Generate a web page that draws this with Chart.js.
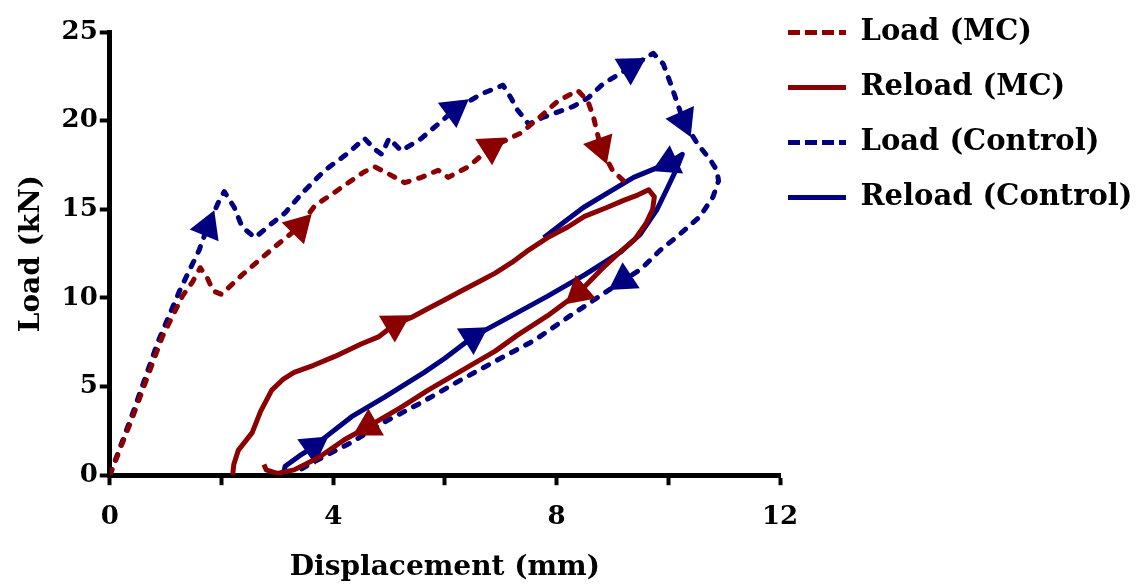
<!DOCTYPE html>
<html>
<head>
<meta charset="utf-8">
<script src="https://cdn.jsdelivr.net/npm/chart.js@4.4.1/dist/chart.umd.min.js"></script>
<style>
    html, body { margin: 0; padding: 0; background: #fff; overflow: hidden; }
    #wrap { width: 1141px; height: 588px; position: relative; }
</style>
</head>
<body>
<div id="wrap"><canvas id="chart"></canvas></div>
<script>
// Tick labels
const xTicks = [0, 4, 8, 12];
const yTicks = [0, 5, 10, 15, 20, 25];

// Series values: [displacement (mm), load (kN)], in drawing order
const loadMC = [
    [0, 0], [0.4, 3.2], [0.94, 7.8], [1.3, 10.1], [1.48, 10.9], [1.62, 11.7],
    [1.75, 11.1], [1.85, 10.4], [2.0, 10.2], [2.37, 11.3], [2.96, 12.9], [3.39, 14.0],
    [3.67, 15.2], [4.0, 15.9], [4.27, 16.5], [4.55, 17.1], [4.74, 17.4], [4.99, 17.0],
    [5.28, 16.5], [5.58, 16.8], [5.88, 17.2], [6.06, 16.8], [6.42, 17.4], [6.83, 18.5],
    [7.36, 19.3], [7.7, 20.2], [8.02, 21.1], [8.38, 21.7], [8.56, 21.1], [8.66, 20.2],
    [8.79, 18.5], [9.0, 17.2], [9.2, 16.6]
];
const reloadMC = [
    [2.2, 0], [2.22, 0.6], [2.3, 1.4], [2.55, 2.4], [2.7, 3.6], [2.9, 4.8],
    [3.1, 5.4], [3.3, 5.8], [3.65, 6.2], [4.03, 6.7], [4.5, 7.4], [4.81, 7.8],
    [5.1, 8.5], [5.4, 8.9], [5.7, 9.4], [6.0, 9.9], [6.3, 10.4], [6.6, 10.9],
    [6.9, 11.4], [7.2, 12.0], [7.5, 12.7], [7.84, 13.4], [8.2, 14.0], [8.5, 14.6],
    [8.9, 15.1], [9.2, 15.5], [9.45, 15.8], [9.65, 16.1], [9.75, 15.7], [9.72, 15.0],
    [9.6, 14.2], [9.4, 13.3], [9.1, 12.5], [8.8, 11.6], [8.4, 10.3], [7.84, 9.0],
    [7.3, 7.9], [6.9, 7.0], [6.3, 5.9], [5.7, 4.8], [5.2, 3.8], [4.63, 2.75],
    [4.2, 2.0], [3.74, 1.0], [3.3, 0.3], [3.0, 0.1], [2.8, 0.3], [2.76, 0.6]
];
const loadControl = [
    [0, 0], [0.4, 3.4], [0.86, 7.5], [1.25, 10.4], [1.6, 12.7], [1.75, 14.0],
    [1.96, 15.5], [2.05, 16.0], [2.23, 15.1], [2.37, 14.0], [2.6, 13.4], [2.9, 14.2],
    [3.14, 14.8], [3.44, 15.9], [3.85, 17.2], [4.28, 18.2], [4.56, 19.0], [4.74, 18.4],
    [4.87, 18.1], [5.0, 19.0], [5.22, 18.3], [5.58, 19.0], [6.17, 20.6], [6.65, 21.5],
    [7.04, 22.0], [7.18, 21.3], [7.3, 20.6], [7.5, 19.8], [7.77, 20.2], [8.3, 20.8],
    [8.57, 21.3], [8.84, 22.1], [9.32, 23.0], [9.73, 23.8], [9.91, 23.2], [10.04, 22.1],
    [10.27, 20.0], [10.52, 18.7], [10.75, 17.8], [10.87, 17.2], [10.9, 16.6], [10.8, 15.7],
    [10.57, 14.6], [10.21, 13.6], [9.86, 12.7], [9.5, 11.6], [9.2, 11.0], [8.2, 8.9],
    [7.6, 7.6], [7.06, 6.7], [6.3, 5.4], [5.58, 4.1], [4.92, 3.0], [4.33, 1.85],
    [3.62, 0.7], [3.3, 0.1]
];
const reloadControl = [
    [3.1, 0], [3.14, 0.5], [3.4, 1.1], [3.65, 1.6], [3.74, 1.85], [4.33, 3.3],
    [4.92, 4.4], [5.63, 5.8], [6.0, 6.6], [6.5, 7.8], [7.2, 9.0], [7.84, 10.1],
    [8.5, 11.3], [9.15, 12.6], [9.5, 13.6], [9.8, 15.0], [10.0, 16.3], [10.15, 17.3],
    [10.25, 18.1], [10.0, 17.6], [9.38, 16.8], [8.9, 15.9], [8.48, 15.1], [8.1, 14.2],
    [7.77, 13.4]
];

// Which points carry a direction arrow
const loadMCArrows = [11, 23, 30];
const reloadMCArrows = [12, 34, 41];
const loadControlArrows = [5, 22, 32, 36, 46];
const reloadControlArrows = [3, 9, 19];

const RED = '#8b0000';
const BLUE = '#000080';

// Arrow points along the path, using the neighbouring points in pixel space
function arrowRotation(ctx, points) {
    const i = ctx.dataIndex;
    const xs = ctx.chart.scales.x;
    const ys = ctx.chart.scales.y;
    const a = points[Math.max(0, i - 1)];
    const b = points[Math.min(points.length - 1, i + 1)];
    const dx = xs.getPixelForValue(b[0]) - xs.getPixelForValue(a[0]);
    const dy = ys.getPixelForValue(b[1]) - ys.getPixelForValue(a[1]);
    return Math.atan2(dx, -dy) * 180 / Math.PI;
}

function makeDataset(label, points, arrows, color, dashed) {
    return {
        label: label,
        data: points.map(p => ({ x: p[0], y: p[1] })),
        showLine: true,
        borderColor: color,
        backgroundColor: color,
        borderWidth: 5,
        borderDash: dashed ? [6, 10] : [],
        borderCapStyle: dashed ? 'round' : 'butt',
        borderJoinStyle: 'round',
        tension: 0,
        pointStyle: 'triangle',
        pointRadius: ctx => arrows.includes(ctx.dataIndex) ? 16 : 0,
        pointHoverRadius: ctx => arrows.includes(ctx.dataIndex) ? 16 : 0,
        pointRotation: ctx => arrowRotation(ctx, points),
        pointBackgroundColor: color,
        pointBorderColor: color,
        pointBorderWidth: 2,
        legendDash: dashed ? [12, 5] : []
    };
}

// Legend sits higher than the plot top and starts a bit further left;
// only the left edge moves so the legend's clip box keeps the full right side
const legendShift = {
    id: 'legendShift',
    afterLayout(chart) {
        const lg = chart.legend;
        if (!lg) return;
        lg.top -= 40;
        lg.left -= 18;
        lg.width += 18;
        lg.height += 40;
        lg.adjustHitBoxes();
    }
};

const serif = 'DejaVu Serif';

const ctx = document.getElementById('chart').getContext('2d');
new Chart(ctx, {
    type: 'scatter',
    data: {
        datasets: [
            makeDataset('Load (MC)', loadMC, loadMCArrows, RED, true),
            makeDataset('Reload (MC)', reloadMC, reloadMCArrows, RED, false),
            makeDataset('Load (Control)', loadControl, loadControlArrows, BLUE, true),
            makeDataset('Reload (Control)', reloadControl, reloadControlArrows, BLUE, false)
        ]
    },
    plugins: [legendShift],
    options: {
        responsive: true,
        maintainAspectRatio: false,
        animation: false,
        layout: {
            padding: { top: 32, right: 0, bottom: 3, left: 15 }
        },
        plugins: {
            tooltip: { enabled: false },
            legend: {
                position: 'right',
                align: 'start',
                maxWidth: 361,
                labels: {
                    usePointStyle: true,
                    pointStyleWidth: 58,
                    padding: 26,
                    color: '#000',
                    font: { family: serif, weight: 'bold', size: 29 },
                    generateLabels: chart => chart.data.datasets.map((ds, i) => ({
                        text: ds.label,
                        fillStyle: ds.borderColor,
                        strokeStyle: ds.borderColor,
                        lineWidth: 5,
                        lineDash: ds.legendDash,
                        lineCap: 'butt',
                        pointStyle: 'line',
                        rotation: 0,
                        fontColor: '#000',
                        hidden: !chart.isDatasetVisible(i),
                        datasetIndex: i
                    }))
                }
            }
        },
        scales: {
            x: {
                type: 'linear',
                min: xTicks[0],
                max: xTicks[xTicks.length - 1],
                border: { display: true, color: '#000', width: 5 },
                grid: { drawOnChartArea: false, drawTicks: true, tickLength: 10, tickWidth: 4, tickColor: '#000' },
                ticks: {
                    stepSize: 2,
                    color: '#000',
                    padding: 16,
                    font: { family: serif, weight: 'bold', size: 26 },
                    callback: v => xTicks.includes(v) ? String(v) : ''
                },
                title: {
                    display: true,
                    text: 'Displacement (mm)',
                    color: '#000',
                    font: { family: serif, weight: 'bold', size: 28 },
                    padding: { top: 3, bottom: 0 }
                }
            },
            y: {
                type: 'linear',
                min: yTicks[0],
                max: yTicks[yTicks.length - 1],
                border: { display: true, color: '#000', width: 5 },
                grid: { drawOnChartArea: false, drawTicks: true, tickLength: 10, tickWidth: 4, tickColor: '#000' },
                ticks: {
                    stepSize: 5,
                    color: '#000',
                    padding: 2,
                    font: { family: serif, weight: 'bold', size: 26 },
                    callback: v => yTicks.includes(v) ? String(v) : ''
                },
                title: {
                    display: true,
                    text: 'Load (kN)',
                    color: '#000',
                    font: { family: serif, weight: 'bold', size: 28 },
                    padding: { top: 0, bottom: 11 }
                }
            }
        }
    }
});
</script>
</body>
</html>
